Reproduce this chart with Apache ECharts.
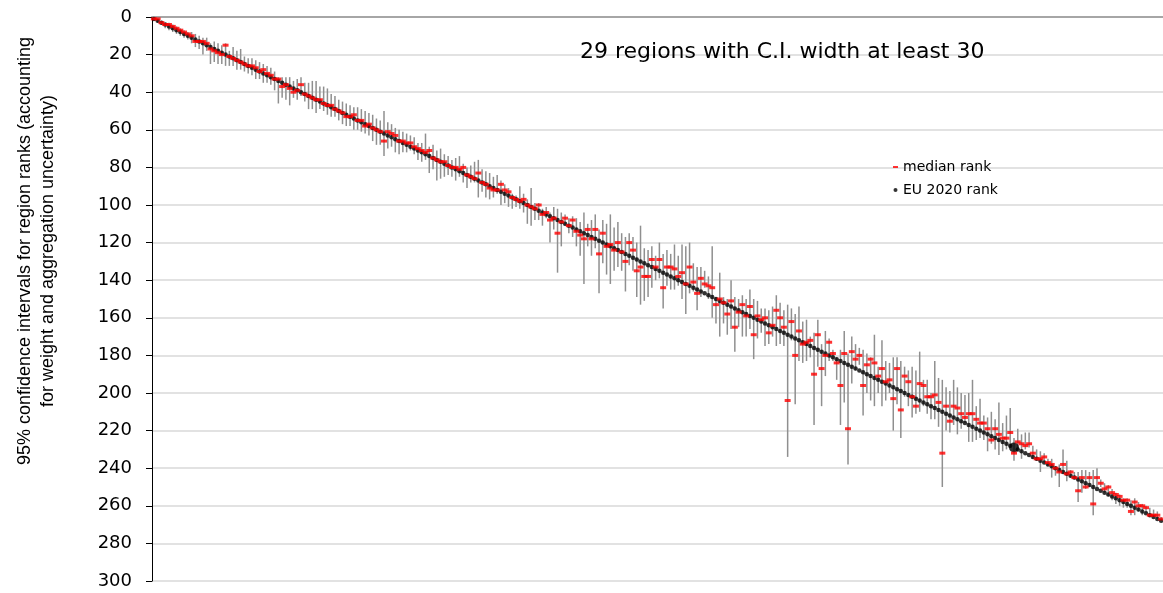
<!DOCTYPE html>
<html>
<head>
<meta charset="utf-8">
<script src="https://cdn.jsdelivr.net/npm/echarts@6/dist/echarts.min.js"></script>
<style>
html,body{margin:0;padding:0;background:#fff;}
#chart{width:1163px;height:593px;}
</style>
</head>
<body>
<div id="chart"></div>
<script>
// EU 2020 rank of each region (regions sorted by this rank)
const euRank = [1,2,3,4,5,6,7,8,9,10,11,12,13,14,15,16,17,18,19,20,21,22,23,24,25,26,27,28,29,30,31,32,33,34,35,36,37,38,39,40,41,42,43,44,45,46,47,48,49,50,51,52,53,54,55,56,57,58,59,60,61,62,63,64,65,66,67,68,69,70,71,72,73,74,75,76,77,78,79,80,81,82,83,84,85,86,87,88,89,90,91,92,93,94,95,96,97,98,99,100,101,102,103,104,105,106,107,108,109,110,111,112,113,114,115,116,117,118,119,120,121,122,123,124,125,126,127,128,129,130,131,132,133,134,135,136,137,138,139,140,141,142,143,144,145,146,147,148,149,150,151,152,153,154,155,156,157,158,159,160,161,162,163,164,165,166,167,168,169,170,171,172,173,174,175,176,177,178,179,180,181,182,183,184,185,186,187,188,189,190,191,192,193,194,195,196,197,198,199,200,201,202,203,204,205,206,207,208,209,210,211,212,213,214,215,216,217,218,219,220,221,222,223,224,225,226,227,228,229,230,231,232,233,234,235,236,237,238,239,240,241,242,243,244,245,246,247,248,249,250,251,252,253,254,255,256,257,258,259,260,261,262,263,264,265,266,267,268];

// median rank from the uncertainty analysis
const medianRank = [1,1,3,4,4,5,6,7,8,9,10,13,13,13,14,17,18,19,20,15,21,22,23,24,25,26,26,27,29,28,30,31,33,33,37,36,38,40,39,36,41,42,43,44,44,46,47,47,49,50,51,53,53,52,55,55,58,57,59,60,61,66,61,62,63,66,66,67,67,69,70,71,72,71,75,76,77,77,79,80,80,81,80,84,85,86,83,88,89,91,92,92,89,92,93,96,97,98,97,100,101,102,100,105,104,108,107,115,109,107,111,108,114,116,118,113,118,113,126,115,122,121,124,120,125,130,120,124,135,133,138,138,129,133,129,144,133,133,134,138,136,142,133,141,147,139,142,143,144,153,150,152,158,151,165,157,153,159,154,169,159,161,160,168,164,156,160,165,204,162,180,167,174,173,172,190,169,187,180,173,179,184,196,179,219,178,182,180,196,185,182,184,191,187,194,193,203,187,209,191,194,202,207,195,196,202,202,201,205,232,207,215,207,208,211,213,211,211,214,216,216,219,225,219,222,224,224,221,232,226,227,228,227,232,235,235,234,237,238,240,242,238,243,242,245,252,245,250,245,259,245,248,251,250,253,254,255,257,257,263,258,260,260,261,265,265,265,267];

// lower and upper bounds of the 95% confidence interval
const ciLow = [1,1,2,3,3,4,5,6,7,8,8,9,10,11,11,14,13,14,15,14,18,16,18,17,21,22,22,23,24,25,26,27,29,32,32,32,32,34,33,32,35,35,34,34,37,37,38,41,42,44,45,46,47,48,48,49,50,51,52,54,55,50,56,57,59,60,61,62,63,64,67,67,62,69,68,71,70,73,74,76,75,74,78,80,79,77,76,81,82,83,85,84,87,89,91,94,95,90,94,97,91,99,99,102,101,104,101,102,104,105,107,106,107,109,104,110,108,105,113,108,110,105,112,109,115,117,115,117,120,111,123,124,122,127,120,126,124,126,121,127,121,122,120,131,133,133,135,138,122,149,136,149,150,140,149,150,148,150,145,150,151,155,155,156,154,148,152,156,153,155,158,154,162,161,170,168,161,174,167,171,177,181,177,167,179,170,174,176,177,179,181,169,186,172,183,184,181,181,183,186,188,186,188,178,193,193,200,183,192,193,197,199,193,197,200,201,200,193,207,203,212,213,210,214,205,216,212,208,224,219,222,221,221,228,230,231,232,235,235,239,238,230,236,241,242,242,241,241,242,241,240,246,248,249,251,253,254,256,256,257,256,258,259,260,261,262,263,266];

const ciHigh = [2,3,4,6,7,8,9,10,11,12,14,16,17,20,18,25,24,25,25,26,26,26,28,28,29,30,31,33,33,35,35,36,39,46,43,44,47,43,44,42,45,49,49,51,49,50,52,53,53,55,57,58,58,60,60,61,62,63,66,68,68,74,70,69,72,73,72,72,71,73,76,77,76,83,81,87,86,85,84,85,87,85,88,91,88,88,96,93,96,97,96,94,100,99,101,102,101,102,104,110,111,108,108,111,107,120,113,136,122,111,115,117,122,127,142,122,127,123,147,131,137,142,135,133,135,146,132,135,149,153,151,149,144,140,139,155,143,145,145,143,150,158,147,146,156,149,144,150,160,163,170,163,169,166,178,165,170,170,166,182,171,168,175,174,170,175,174,175,234,172,206,183,184,183,181,217,186,207,191,183,183,193,217,205,238,195,188,185,212,200,204,207,200,207,204,200,220,206,224,202,207,213,211,210,207,211,214,214,218,250,220,221,217,222,219,216,226,226,225,224,225,231,227,230,233,231,230,229,236,229,235,230,229,235,236,242,237,239,245,244,250,243,247,245,246,258,253,251,250,265,250,250,253,255,257,259,260,261,261,265,265,263,265,264,266,266,267,268];

// region drawn with a larger marker
const highlightRank = 229;

const titleText = '29 regions with C.I. width at least 30';
const yAxisTitle = '95% confidence intervals for region ranks (accounting\nfor weight and aggregation uncertainty)';
const yTicks = {min: 0, max: 300, step: 20};

const ciData = euRank.map((r, k) => [k, ciLow[k], ciHigh[k]]);
const euData = euRank.map(r => r === highlightRank ? {value: r, symbolSize: 10} : r);

const chart = echarts.init(document.getElementById('chart'), null, {renderer: 'canvas'});
chart.setOption({
  animation: false,
  backgroundColor: '#ffffff',
  title: {
    text: titleText,
    left: 580,
    top: 41,
    padding: 0,
    textStyle: {fontFamily: 'DejaVu Sans', fontSize: 22, fontWeight: 'normal', color: '#000'}
  },
  legend: {
    orient: 'vertical',
    left: 893,
    top: 160,
    padding: 0,
    itemGap: 9,
    itemWidth: 5,
    itemHeight: 4,
    textStyle: {fontFamily: 'DejaVu Sans', fontSize: 14, color: '#000'},
    data: [
      {name: 'median rank', icon: 'path://M0,0H10V4H0Z'},
      {name: 'EU 2020 rank', icon: 'circle'}
    ]
  },
  grid: {left: 152, right: 0, top: 17, bottom: 12, containLabel: false},
  xAxis: {
    type: 'category',
    data: euRank,
    position: 'top',
    boundaryGap: true,
    axisLine: {show: true, lineStyle: {color: '#a6a6a6', width: 2}},
    axisTick: {show: false},
    axisLabel: {show: false},
    splitLine: {show: false}
  },
  yAxis: {
    type: 'value',
    inverse: true,
    min: yTicks.min,
    max: yTicks.max,
    interval: yTicks.step,
    name: yAxisTitle,
    nameLocation: 'middle',
    nameGap: 92,
    nameTextStyle: {fontFamily: 'Liberation Sans', fontSize: 18, color: '#000', lineHeight: 23, padding: [0, 0, 0, 96]},
    axisLine: {show: true, lineStyle: {color: '#000', width: 1}},
    axisTick: {show: true, inside: false, length: 6, lineStyle: {color: '#000'}},
    axisLabel: {margin: 20, fontFamily: 'DejaVu Sans', fontSize: 18, color: '#000'},
    splitLine: {show: true, lineStyle: {color: '#d9d9d9', width: 1.5}}
  },
  series: [
    {
      name: 'CI',
      type: 'custom',
      z: 1,
      data: ciData,
      encode: {x: 0, y: [1, 2]},
      renderItem: function (params, api) {
        const k = api.value(0);
        const p1 = api.coord([k, api.value(1)]);
        const p2 = api.coord([k, api.value(2)]);
        return {
          type: 'line',
          shape: {x1: p1[0], y1: p1[1], x2: p2[0], y2: p2[1]},
          style: {stroke: '#8f8f8f', lineWidth: 1.5}
        };
      }
    },
    {
      name: 'EU 2020 rank',
      type: 'scatter',
      z: 2,
      symbol: 'circle',
      symbolSize: 4.5,
      itemStyle: {color: '#000'},
      data: euData
    },
    {
      name: 'median rank',
      type: 'scatter',
      z: 3,
      symbol: 'rect',
      symbolSize: [6, 3],
      itemStyle: {color: '#ff0000'},
      data: medianRank
    }
  ]
});
</script>
</body>
</html>
